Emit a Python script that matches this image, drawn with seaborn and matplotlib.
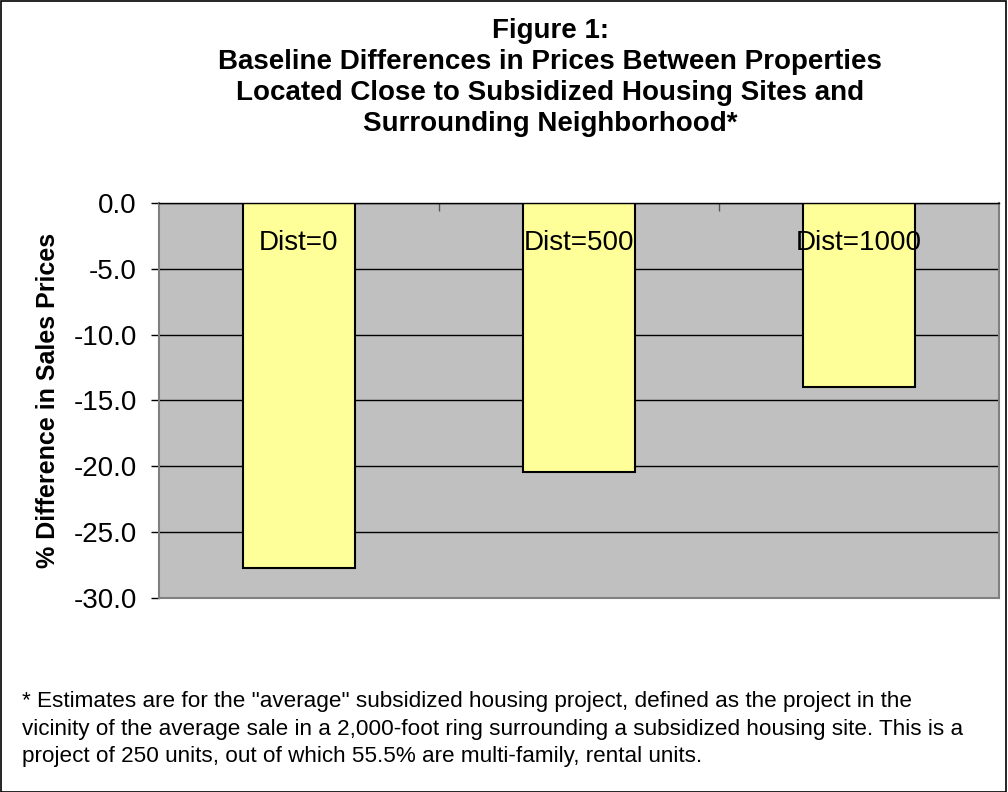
import numpy as np
import pandas as pd
import matplotlib
matplotlib.use("Agg")
import matplotlib.pyplot as plt
import seaborn as sns

# data
categories = ["Dist=0", "Dist=500", "Dist=1000"]
pct_diff = [-27.7, -20.4, -14.0]
y_ticks = [0.0, -5.0, -10.0, -15.0, -20.0, -25.0, -30.0]

title_lines = ["Figure 1:",
               "Baseline Differences in Prices Between Properties",
               "Located Close to Subsidized Housing Sites and",
               "Surrounding Neighborhood*"]
footnote = ('* Estimates are for the "average" subsidized housing project, defined as the project in the\n'
            'vicinity of the average sale in a 2,000-foot ring surrounding a subsidized housing site. This is a\n'
            'project of 250 units, out of which 55.5% are multi-family, rental units.')

df = pd.DataFrame({"dist": categories, "pct": pct_diff})

sns.set_style("white")
plt.rcParams["font.family"] = ["Liberation Sans", "DejaVu Sans"]
plt.rcParams["text.color"] = "black"
plt.rcParams["axes.labelcolor"] = "black"
plt.rcParams["ytick.color"] = "black"

fig = plt.figure(figsize=(10.08, 7.92), dpi=100)
ax = fig.add_axes([0.1577, 0.245, 0.8333, 0.4987])

ax.set_facecolor("#C0C0C0")
ax.set_axisbelow(True)
ax.yaxis.grid(True, color="black", linewidth=1.0)

sns.barplot(data=df, x="dist", y="pct", color="#FFFF99", edgecolor="black",
            linewidth=1.5, width=0.4, saturation=1, ax=ax)

for i, lab in enumerate(categories):
    ax.text(i, -3.05, lab, ha="center", va="center", fontsize=20)

ax.set_ylim(-30, 0)
ax.set_xlim(-0.5, 2.5)
ax.set_yticks(y_ticks)
ax.set_yticklabels([f"{v:.1f}" for v in y_ticks], fontsize=20)
ax.tick_params(axis="y", length=6, width=1, color="black", left=True, pad=10)
# small category separator ticks along the zero line
ax.xaxis.tick_top()
ax.set_xticks([0.5, 1.5])
ax.set_xticklabels([])
ax.tick_params(axis="x", direction="in", length=6, width=1, color="#555555", top=True)
ax.set_xlabel("")
ax.set_ylabel("% Difference in Sales Prices", fontsize=18, fontweight="bold")
ax.yaxis.set_label_coords(-0.118, 0.5)

for side in ["left", "bottom", "right"]:
    ax.spines[side].set_color("#808080")
    ax.spines[side].set_linewidth(1.5)
ax.spines["top"].set_color("black")
ax.spines["top"].set_linewidth(1.0)

title_px = [31, 62, 93, 124]
for ty, line in zip(title_px, title_lines):
    fig.text(550 / 1008, 1 - ty / 792, line, ha="center", va="center",
             fontsize=20, fontweight="bold")

fig.text(0.022, 0.0795, footnote, ha="left", va="center", fontsize=16.2, linespacing=1.39)

fig.patches.append(plt.Rectangle((0.0005, 0.0005), 0.998, 0.998, transform=fig.transFigure,
                                 fill=False, edgecolor="black", linewidth=1.2))

fig.savefig("out.png", dpi=100, facecolor="white")
